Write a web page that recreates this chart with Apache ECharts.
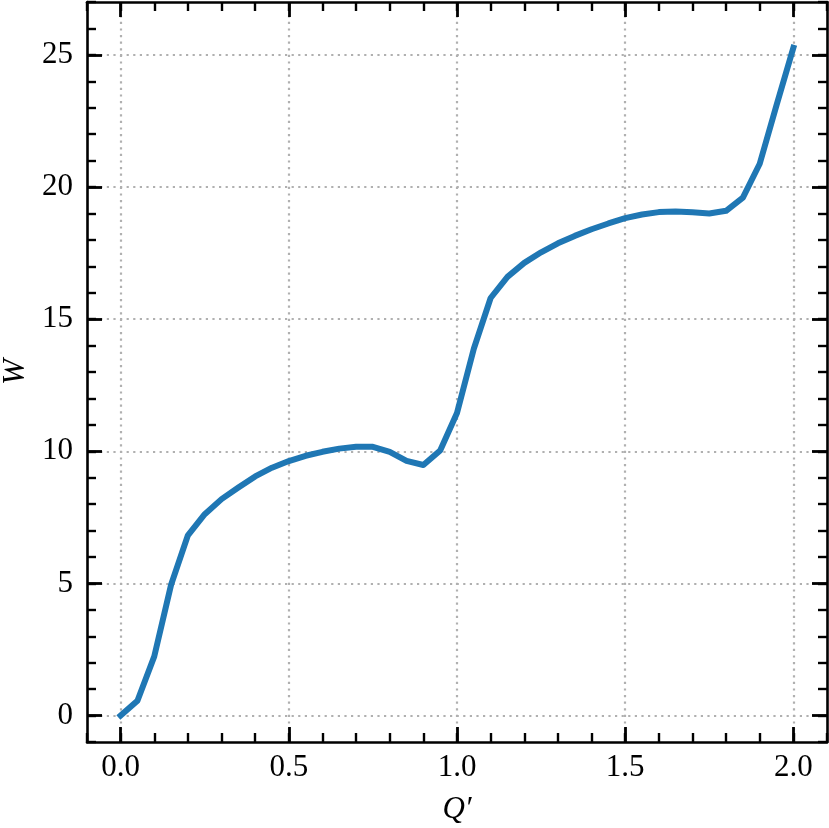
<!DOCTYPE html>
<html>
<head>
<meta charset="utf-8">
<script src="https://cdn.jsdelivr.net/npm/echarts@6/dist/echarts.min.js"></script>
<style>html,body{margin:0;padding:0;background:#fff;}#chart{width:829px;height:828px;}</style>
</head>
<body>
<div id="chart"></div>
<script>
const qValues = [0.00,0.05,0.10,0.15,0.20,0.25,0.30,0.35,0.40,0.45,0.50,0.55,0.60,0.65,0.70,0.75,0.80,0.85,0.90,0.95,1.00,1.05,1.10,1.15,1.20,1.25,1.30,1.35,1.40,1.45,1.50,1.55,1.60,1.65,1.70,1.75,1.80,1.85,1.90,1.95,2.00];
const wValues = [0.00,0.56,2.24,4.95,6.82,7.62,8.19,8.63,9.05,9.38,9.63,9.83,9.98,10.10,10.17,10.17,9.98,9.64,9.48,10.03,11.45,13.88,15.80,16.60,17.13,17.53,17.87,18.15,18.40,18.62,18.82,18.96,19.05,19.07,19.04,19.00,19.10,19.60,20.88,23.10,25.27];
const xMajorTicks = [0.0, 0.5, 1.0, 1.5, 2.0];
const yMajorTicks = [0, 5, 10, 15, 20, 25];
const xLabelName = 'Q\u2032';
const yLabelName = 'W';

const X_MIN = -0.1, X_MAX = 2.1, Y_MIN = -1, Y_MAX = 27;
const FONT = 'Liberation Serif';
const FS = 31;
const black = '#000';
const gridStyle = { color: '#b0b0b0', width: 2.2, type: [2.2, 4.4], cap: 'butt' };

function majorAxis(kind, pos, ticks, showLabel, fmt, extra) {
  return Object.assign({
    type: 'value', position: pos,
    min: kind === 'x' ? X_MIN : Y_MIN, max: kind === 'x' ? X_MAX : Y_MAX,
    interval: kind === 'x' ? 0.1 : 1,
    axisLine: { show: true, onZero: false, lineStyle: { color: black, width: 2.6 } },
    axisTick: { show: true, inside: true, length: 15, customValues: ticks, lineStyle: { color: black, width: 2.8 } },
    axisLabel: { show: showLabel, customValues: ticks, formatter: fmt, color: black, fontFamily: FONT, fontSize: FS,
                 margin: kind === 'x' ? 10 : 14 },
    splitLine: { show: false },
    minorTick: { show: false },
    minorSplitLine: { show: false }
  }, extra || {});
}
function minorAxis(kind, pos) {
  return {
    type: 'value', position: pos,
    min: kind === 'x' ? X_MIN : Y_MIN, max: kind === 'x' ? X_MAX : Y_MAX,
    interval: kind === 'x' ? 0.1 : 1,
    axisLine: { show: false, onZero: false },
    axisTick: { show: true, inside: true, length: 9, lineStyle: { color: black, width: 2.4 } },
    axisLabel: { show: false },
    splitLine: { show: false }
  };
}

const chart = echarts.init(document.getElementById('chart'), null, { renderer: 'canvas' });
chart.setOption({
  backgroundColor: '#fff',
  animation: false,
  grid: { left: 87, right: 2, top: 2, bottom: 86, containLabel: false, outerBoundsMode: 'none' },
  xAxis: [
    majorAxis('x', 'bottom', xMajorTicks, true, v => v.toFixed(1), {
      splitLine: { show: true, lineStyle: gridStyle },
      name: xLabelName, nameLocation: 'middle', nameGap: 52,
      nameTextStyle: { fontFamily: FONT, fontStyle: 'italic', fontSize: FS, color: black }
    }),
    minorAxis('x', 'bottom'),
    majorAxis('x', 'top', xMajorTicks, false, v => v),
    minorAxis('x', 'top')
  ],
  yAxis: [
    majorAxis('y', 'left', yMajorTicks, true, v => String(v), {
      splitLine: { show: true, lineStyle: gridStyle },
      name: yLabelName, nameLocation: 'middle', nameGap: 56, nameRotate: 90,
      nameTextStyle: { fontFamily: FONT, fontStyle: 'italic', fontSize: FS, color: black }
    }),
    minorAxis('y', 'left'),
    majorAxis('y', 'right', yMajorTicks, false, v => v),
    minorAxis('y', 'right')
  ],
  series: [{
    type: 'line',
    xAxisIndex: 0, yAxisIndex: 0,
    data: qValues.map((q, i) => [q, wValues[i]]),
    showSymbol: false, symbol: 'none',
    lineStyle: { color: '#1f77b4', width: 6, cap: 'square', join: 'round' },
    z: 5
  }]
});
</script>
</body>
</html>
